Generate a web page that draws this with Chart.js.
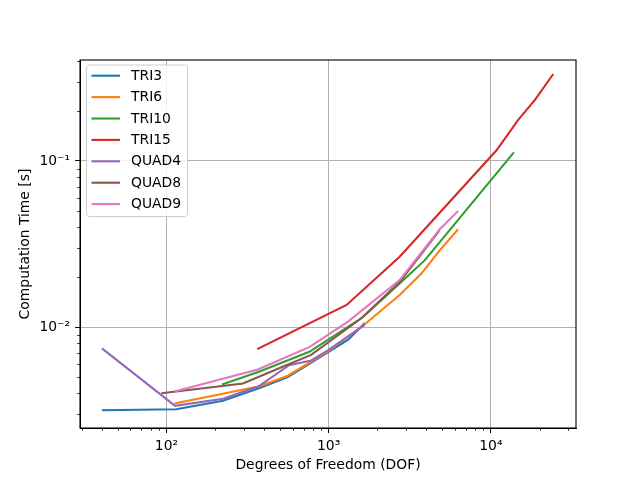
<!DOCTYPE html>
<html>
<head>
<meta charset="utf-8">
<script src="https://cdn.jsdelivr.net/npm/chart.js@4/dist/chart.umd.min.js"></script>
<style>
html, body { margin: 0; padding: 0; background: #fff; }
canvas { display: block; }
</style>
</head>
<body>
<canvas id="c" width="640" height="480"></canvas>
<script>
// ---- data ----
const seriesNames = ['TRI3', 'TRI6', 'TRI10', 'TRI15', 'QUAD4', 'QUAD8', 'QUAD9'];
const tri3Dof  = [40, 115, 223, 375, 560, 1000, 1320, 1670];
const tri3Time = [0.00316, 0.0032, 0.0036, 0.0043, 0.0050, 0.0071, 0.0084, 0.0106];
const tri6Dof  = [112, 375, 560, 1000, 1670, 2740, 3730, 4840, 6280];
const tri6Time = [0.00347, 0.0044, 0.0051, 0.0072, 0.0104, 0.0156, 0.0210, 0.0290, 0.0388];
const tri10Dof  = [220, 375, 760, 1630, 2740, 3920, 13870];
const tri10Time = [0.00452, 0.0054, 0.0071, 0.0115, 0.0183, 0.0253, 0.1128];
const tri15Dof  = [363, 1290, 2740, 10840, 14750, 18700, 24270];
const tri15Time = [0.00737, 0.0136, 0.0265, 0.116, 0.177, 0.233, 0.334];
const quad4Dof  = [40, 113, 223, 370, 570, 780, 1000, 1670];
const quad4Time = [0.00744, 0.00336, 0.0037, 0.0044, 0.0059, 0.0063, 0.0073, 0.0103];
const quad8Dof  = [93, 296, 548, 780, 1590, 2740, 4800];
const quad8Time = [0.0040, 0.00458, 0.0059, 0.0068, 0.0113, 0.0187, 0.038];
const quad9Dof  = [112, 366, 764, 1316, 2740, 4840, 6280];
const quad9Time = [0.0041, 0.00556, 0.0076, 0.0108, 0.0192, 0.0388, 0.050];
const xTickLabels = {2: '10²', 3: '10³', 4: '10⁴'};
const yTickLabels = {'-1': '10⁻¹', '-2': '10⁻²'};

const allDof  = [tri3Dof, tri6Dof, tri10Dof, tri15Dof, quad4Dof, quad8Dof, quad9Dof];
const allTime = [tri3Time, tri6Time, tri10Time, tri15Time, quad4Time, quad8Time, quad9Time];
const colors = ['#1f77b4', '#ff7f0e', '#2ca02c', '#d62728', '#9467bd', '#8c564b', '#e377c2'];

const FONT = 'DejaVu Sans';
const FS = 13.9;

function isMajor(v) {
  const l = Math.log10(v);
  return Math.abs(l - Math.round(l)) < 1e-9;
}
function logTicks(min, max) {
  const out = [];
  for (let e = Math.floor(Math.log10(min)); e <= Math.ceil(Math.log10(max)); e++) {
    for (let k = 1; k <= 9; k++) {
      const v = k * Math.pow(10, e);
      if (v >= min * 0.999999 && v <= max * 1.000001) out.push({value: v, major: k === 1});
    }
  }
  return out;
}

const datasets = seriesNames.map((name, i) => ({
  label: name,
  data: allDof[i].map((x, j) => ({x: x, y: allTime[i][j]})),
  borderColor: colors[i],
  backgroundColor: colors[i],
  borderWidth: 2.1,
  pointRadius: 0,
  tension: 0,
  fill: false,
  order: -i
}));

const framePlugin = {
  id: 'frameAndLegend',
  afterDraw(chart) {
    const ctx = chart.ctx;
    const a = chart.chartArea;
    // minor tick marks
    ctx.save();
    ctx.strokeStyle = '#000';
    ctx.lineWidth = 0.8;
    const xs = chart.scales.x, ys = chart.scales.y;
    xs.ticks.forEach(t => {
      if (!isMajor(t.value)) {
        const px = Math.round(xs.getPixelForValue(t.value)) + 0.5;
        ctx.beginPath(); ctx.moveTo(px, a.bottom); ctx.lineTo(px, a.bottom + 2.8); ctx.stroke();
      }
    });
    ys.ticks.forEach(t => {
      if (!isMajor(t.value)) {
        const py = Math.round(ys.getPixelForValue(t.value)) + 0.5;
        ctx.beginPath(); ctx.moveTo(a.left, py); ctx.lineTo(a.left - 2.8, py); ctx.stroke();
      }
    });
    // frame (all four spines)
    ctx.lineWidth = 1.1;
    ctx.strokeStyle = '#000';
    ctx.strokeRect(a.left, a.top, a.right - a.left, a.bottom - a.top);
    // legend
    const lx = a.left + 6.5, ly = a.top + 5, lw = 101, lh = 151.5, r = 3;
    ctx.beginPath();
    ctx.moveTo(lx + r, ly);
    ctx.lineTo(lx + lw - r, ly); ctx.quadraticCurveTo(lx + lw, ly, lx + lw, ly + r);
    ctx.lineTo(lx + lw, ly + lh - r); ctx.quadraticCurveTo(lx + lw, ly + lh, lx + lw - r, ly + lh);
    ctx.lineTo(lx + r, ly + lh); ctx.quadraticCurveTo(lx, ly + lh, lx, ly + lh - r);
    ctx.lineTo(lx, ly + r); ctx.quadraticCurveTo(lx, ly, lx + r, ly);
    ctx.closePath();
    ctx.fillStyle = 'rgba(255,255,255,0.8)';
    ctx.fill();
    ctx.strokeStyle = '#cccccc';
    ctx.lineWidth = 1;
    ctx.stroke();
    ctx.font = FS + 'px "' + FONT + '"';
    ctx.textBaseline = 'middle';
    ctx.textAlign = 'left';
    chart.data.datasets.forEach((ds, i) => {
      const yy = ly + 10.7 + i * 21.4;
      ctx.strokeStyle = ds.borderColor;
      ctx.lineWidth = 2.1;
      ctx.beginPath(); ctx.moveTo(lx + 5, yy); ctx.lineTo(lx + 33.5, yy); ctx.stroke();
      ctx.fillStyle = '#000';
      ctx.fillText(ds.label, lx + 44.5, yy + 0.5);
    });
    ctx.restore();
  }
};

Chart.defaults.color = '#000';
Chart.defaults.font.family = FONT;
Chart.defaults.font.size = FS;

new Chart(document.getElementById('c'), {
  type: 'line',
  data: { datasets: datasets },
  plugins: [framePlugin],
  options: {
    responsive: false,
    animation: false,
    events: [],
    layout: { padding: { left: 0, right: 64, top: 60, bottom: 0 } },
    plugins: { legend: { display: false }, tooltip: { enabled: false }, title: { display: false } },
    scales: {
      x: {
        type: 'logarithmic',
        min: 29.3, max: 33500,
        bounds: 'data',
        afterBuildTicks(scale) { scale.ticks = logTicks(scale.min, scale.max); },
        afterFit(scale) { scale.height = 52; },
        ticks: {
          autoSkip: false, maxRotation: 0, minRotation: 0, padding: 5,
          color: '#000',
          callback(v) { return isMajor(v) ? xTickLabels[Math.round(Math.log10(v))] : ''; }
        },
        grid: {
          color: c => (c.tick && isMajor(c.tick.value)) ? '#b0b0b0' : 'rgba(0,0,0,0)',
          lineWidth: 1,
          tickColor: c => (c.tick && isMajor(c.tick.value)) ? '#000' : 'rgba(0,0,0,0)',
          tickLength: 5,
          tickWidth: 1
        },
        border: { display: true, color: '#000', width: 1 },
        title: { display: true, text: 'Degrees of Freedom (DOF)', color: '#000',
                 font: { family: FONT, size: FS }, padding: { top: 0, bottom: 6 } }
      },
      y: {
        type: 'logarithmic',
        min: 0.00247, max: 0.4055,
        bounds: 'data',
        afterBuildTicks(scale) { scale.ticks = logTicks(scale.min, scale.max); },
        afterFit(scale) { scale.width = 80; },
        ticks: {
          autoSkip: false, padding: 5,
          color: '#000',
          callback(v) { return isMajor(v) ? yTickLabels[String(Math.round(Math.log10(v)))] : ''; }
        },
        grid: {
          color: c => (c.tick && isMajor(c.tick.value)) ? '#b0b0b0' : 'rgba(0,0,0,0)',
          lineWidth: 1,
          tickColor: c => (c.tick && isMajor(c.tick.value)) ? '#000' : 'rgba(0,0,0,0)',
          tickLength: 5,
          tickWidth: 1
        },
        border: { display: true, color: '#000', width: 1 },
        title: { display: true, text: 'Computation Time [s]', color: '#000',
                 font: { family: FONT, size: FS }, padding: { top: 17, bottom: 0 } }
      }
    }
  }
});
</script>
</body>
</html>
